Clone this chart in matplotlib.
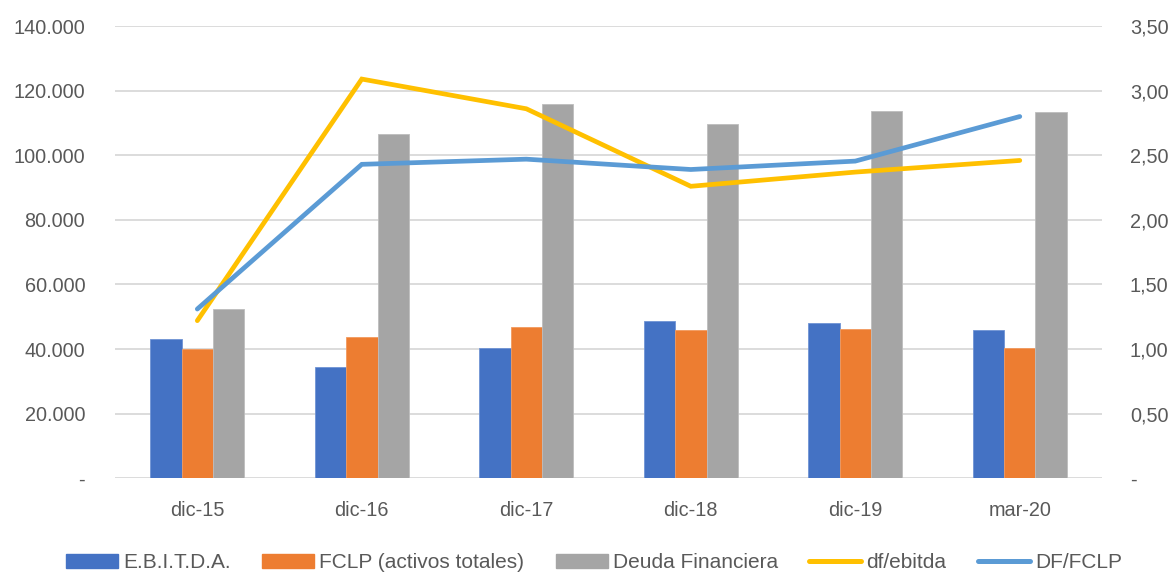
import matplotlib
matplotlib.use("Agg")
import matplotlib.pyplot as plt
from matplotlib.ticker import FuncFormatter, MultipleLocator
from matplotlib.lines import Line2D
from matplotlib.patches import Patch
import numpy as np

categories = ["dic-15", "dic-16", "dic-17", "dic-18", "dic-19", "mar-20"]
ebitda = [43200, 34400, 40400, 48600, 48000, 45900]
fclp = [40000, 43800, 46800, 45900, 46200, 40400]
deuda = [52500, 106600, 116000, 109800, 113600, 113400]
df_ebitda = [1.22, 3.09, 2.86, 2.26, 2.37, 2.46]
df_fclp = [1.31, 2.43, 2.47, 2.39, 2.455, 2.80]

c_blue = "#4472C4"
c_orange = "#ED7D31"
c_gray = "#A5A5A5"
c_yellow = "#FFC000"
c_lblue = "#5B9BD5"
txt = "#595959"

plt.rcParams['font.family'] = ['Liberation Sans', 'DejaVu Sans']

fig = plt.figure(figsize=(11.74, 5.72), dpi=100)
ax = fig.add_axes([0.098, 0.1638, 0.8407, 0.7906])
ax2 = ax.twinx()

x = np.arange(len(categories))
w = 0.191
ax.bar(x - w, ebitda, w, color=c_blue, edgecolor="#6f93d4", linewidth=0.6, zorder=2)
ax.bar(x, fclp, w, color=c_orange, edgecolor="#f29a5e", linewidth=0.6, zorder=2)
ax.bar(x + w, deuda, w, color=c_gray, edgecolor="#bdbdbd", linewidth=0.6, zorder=2)

ax2.plot(x, df_ebitda, color=c_yellow, lw=3.4, solid_capstyle='round', solid_joinstyle='miter', zorder=3)
ax2.plot(x, df_fclp, color=c_lblue, lw=3.4, solid_capstyle='round', solid_joinstyle='miter', zorder=3)

ax.set_xlim(-0.5, len(categories) - 0.5)
ax.set_ylim(0, 140000)
ax2.set_ylim(0, 3.5)
ax.yaxis.set_major_locator(MultipleLocator(20000))
ax2.yaxis.set_major_locator(MultipleLocator(0.5))

def lfmt(v, p):
    if abs(v) < 1e-9:
        return "-"
    return f"{int(round(v)):,}".replace(",", ".")

def rfmt(v, p):
    if abs(v) < 1e-9:
        return "-"
    return f"{v:.2f}".replace(".", ",")

ax.yaxis.set_major_formatter(FuncFormatter(lfmt))
ax2.yaxis.set_major_formatter(FuncFormatter(rfmt))

ax.grid(axis='y', color="#d9d9d9", lw=1.3, zorder=0)
ax.set_axisbelow(True)
for a in (ax, ax2):
    for s in a.spines.values():
        s.set_visible(False)
fs = 14.3
ax.tick_params(axis='both', length=0, labelsize=fs, labelcolor=txt)
ax2.tick_params(axis='both', length=0, labelsize=fs, labelcolor=txt)
ax.tick_params(axis='y', pad=21.5)
ax2.tick_params(axis='y', pad=20)
ax.tick_params(axis='x', pad=16)
ax.set_xticks(x)
ax.set_xticklabels(categories)

handles = [
    Patch(color=c_blue), Patch(color=c_orange), Patch(color=c_gray),
    Line2D([0], [0], color=c_yellow, lw=3.6, solid_capstyle='round'),
    Line2D([0], [0], color=c_lblue, lw=3.6, solid_capstyle='round'),
]
labels = ["E.B.I.T.D.A.", "FCLP (activos totales)", "Deuda Financiera", "df/ebitda", "DF/FCLP"]
leg = fig.legend(handles, labels, loc='center', bbox_to_anchor=(0.506, 1 - 563 / 572), ncol=5,
                 frameon=False, fontsize=15, handlelength=2.5, handleheight=0.65,
                 columnspacing=1.5, handletextpad=0.25, borderpad=0.1)
for t in leg.get_texts():
    t.set_color(txt)

fig.savefig("out.png", dpi=100)
